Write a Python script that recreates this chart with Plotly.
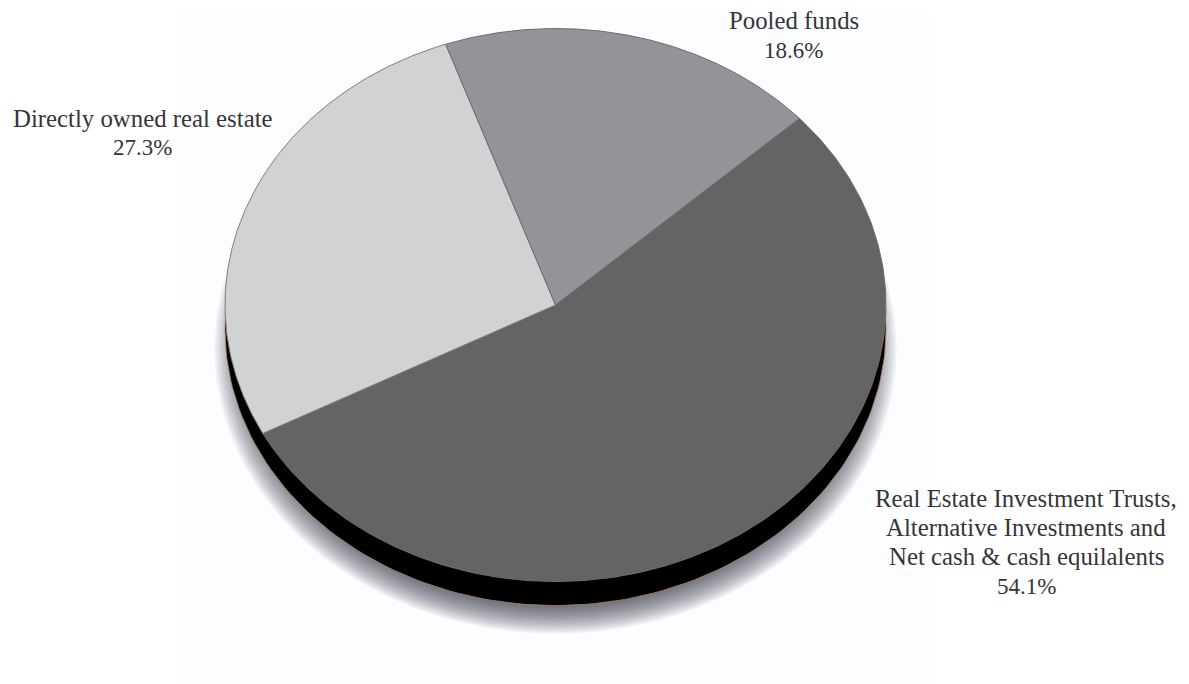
import numpy as np
import plotly.graph_objects as go

# Share of the portfolio, listed clockwise starting from the pooled funds slice
categories = [
    "Pooled funds",
    "Real Estate Investment Trusts,<br>Alternative Investments and<br>Net cash &amp; cash equilalents",
    "Directly owned real estate",
]
shares = [18.6, 54.1, 27.3]
slice_colors = ["#929497", "#636466", "#d1d2d4"]
edge_colors = ["#6d6e71", "#80685e", "#7d7e81"]
first_slice_angle = -19.4  # degrees clockwise from twelve o'clock

WIDTH, HEIGHT = 1189, 684
CX, CY, RX, RY = 555.5, 305.0, 330.5, 276.5  # tilted disc, in pixels
DEPTH = 24.0 / RY  # thickness of the disc, in radii

# Axes are scaled so that the disc is a unit circle squashed by the tilt
x_range = [-CX / RX, (WIDTH - CX) / RX]
y_range = [-(HEIGHT - CY) / RY, CY / RY]


def arc(start, stop, n=240, radius=1.0, dy=0.0):
    t = np.radians(np.linspace(start, stop, n))
    return radius * np.sin(t), radius * np.cos(t) + dy


fig = go.Figure()

# Soft drop shadow: a stack of faint, shrinking discs pushed below the rim
SHADOW_LAYERS = 18
for i in range(SHADOW_LAYERS):
    radius = 1.032 - 0.095 * i / (SHADOW_LAYERS - 1)
    sx, sy = arc(0, 360, radius=radius, dy=-DEPTH - 0.07)
    fig.add_trace(go.Scatter(
        x=sx, y=sy, mode="lines", fill="toself", line=dict(width=0),
        fillcolor="rgba(45,45,55,0.05)", hoverinfo="skip", showlegend=False,
    ))

# Black rim of the disc, with its thin warm outline
rx, ry = arc(0, 360, dy=-DEPTH)
fig.add_trace(go.Scatter(
    x=rx, y=ry, mode="lines", fill="toself", fillcolor="#000000",
    line=dict(color="#b5805f", width=0.8), hoverinfo="skip", showlegend=False,
))

# Slices: the largest goes first so the lighter edges sit on top of it
spans = np.array(shares) / sum(shares) * 360.0
starts = first_slice_angle + np.concatenate([[0.0], np.cumsum(spans)[:-1]])
for k in np.argsort(shares)[::-1]:
    ax, ay = arc(starts[k], starts[k] + spans[k])
    fig.add_trace(go.Scatter(
        x=np.concatenate([[0.0], ax, [0.0]]),
        y=np.concatenate([[0.0], ay, [0.0]]),
        mode="lines", fill="toself", fillcolor=slice_colors[k],
        line=dict(color=edge_colors[k], width=1),
        name=categories[k], hoverinfo="name", showlegend=False,
    ))

# Slice captions: each line is placed separately to hold a tight leading
LEADING = 29.4
first_line_anchors = [(793.5, 21), (1026, 498), (142.5, 118)]
for name, share, (px, py) in zip(categories, shares, first_line_anchors):
    lines = name.split("<br>")
    for n, text in enumerate(lines + [f"{share}%"]):
        fig.add_annotation(
            x=px / WIDTH, y=1 - (py + n * LEADING) / HEIGHT,
            xref="paper", yref="paper", text=text, showarrow=False,
            xanchor="center", yanchor="middle",
            font=dict(family="Liberation Serif",
                      size=24.8 if n < len(lines) else 23,
                      color="#353537"),
        )

fig.update_layout(
    width=WIDTH, height=HEIGHT, margin=dict(l=0, r=0, t=0, b=0),
    paper_bgcolor="#ffffff", plot_bgcolor="#ffffff",
    showlegend=False,
    xaxis=dict(range=x_range, visible=False, fixedrange=True),
    yaxis=dict(range=y_range, visible=False, fixedrange=True),
    # Faintly tinted panel behind the disc
    shapes=[dict(type="rect", xref="paper", yref="paper", layer="below",
                 x0=180 / WIDTH, x1=929 / WIDTH,
                 y0=0, y1=1 - 10 / HEIGHT,
                 fillcolor="#fcfdff", line=dict(width=0))],
)

fig.write_html("out.html", config={"displayModeBar": False, "responsive": False})
